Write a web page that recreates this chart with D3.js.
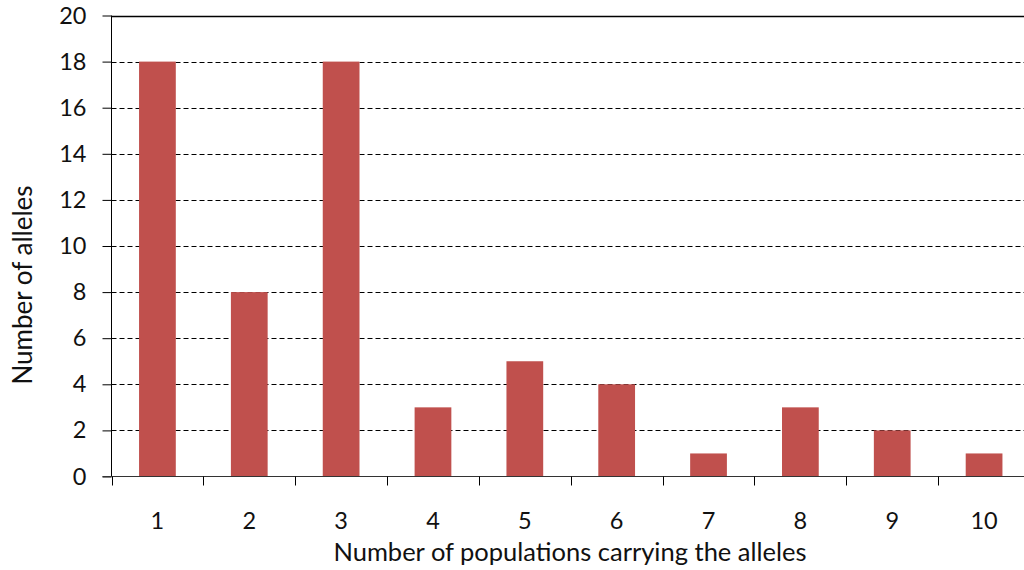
<!DOCTYPE html>
<html>
<head>
<meta charset="utf-8">
<script src="https://cdn.jsdelivr.net/npm/d3@7"></script>
<style>
  html, body { margin: 0; padding: 0; background: #fff; }
  svg { display: block; }
  text { font-family: Lato, "Open Sans", sans-serif; fill: #111; }
</style>
</head>
<body>
<svg id="chart" width="1024" height="570"></svg>
<script>
// Allele counts by number of populations carrying them
const categories = ["1", "2", "3", "4", "5", "6", "7", "8", "9", "10"];
const alleleCounts = [18, 8, 18, 3, 5, 4, 1, 3, 2, 1];
const yTicks = [0, 2, 4, 6, 8, 10, 12, 14, 16, 18, 20];
const xTitle = "Number of populations carrying the alleles";
const yTitle = "Number of alleles";

const svg = d3.select("#chart");
const plotLeft = 111.5, plotRight = 1030, plotTop = 15.5, plotBottom = 476.5;

const x = d3.scaleBand().domain(categories).range([plotLeft, plotRight])
  .paddingInner(0.6).paddingOuter(0.3);
const y = d3.scaleLinear().domain([0, 20]).range([plotBottom, plotTop]);

// horizontal gridlines (dashed), top one solid
svg.append("g").selectAll("line")
  .data(yTicks.filter(t => t > 0))
  .join("line")
  .attr("x1", plotLeft).attr("x2", plotRight)
  .attr("y1", d => Math.round(y(d)) + 0.5).attr("y2", d => Math.round(y(d)) + 0.5)
  .attr("stroke", "#000")
  .attr("stroke-width", d => d === 20 ? 1.3 : 1)
  .attr("stroke-dasharray", d => d === 20 ? null : "5,3");

// bars
svg.append("g").selectAll("rect")
  .data(categories.map((c, i) => ({ c, v: alleleCounts[i] })))
  .join("rect")
  .attr("x", d => x(d.c))
  .attr("width", x.bandwidth())
  .attr("y", d => y(d.v))
  .attr("height", d => y(0) - y(d.v))
  .attr("fill", "#C0504D");

// y axis
const yAxis = d3.axisLeft(y).tickValues(yTicks).tickSize(9).tickPadding(16)
  .tickFormat(d3.format("d"));
const gy = svg.append("g").attr("transform", `translate(${plotLeft},0)`).call(yAxis);
gy.select(".domain").attr("stroke", "#000").attr("d", `M0,${plotTop}V${plotBottom}`);
gy.selectAll(".tick line").attr("stroke", "#000");
gy.selectAll(".tick text").attr("font-size", 23.5).attr("fill", "#111")
  .attr("font-family", "Lato, 'Open Sans', sans-serif");

// x axis: ticks on category boundaries
const boundaries = d3.range(0, categories.length + 1).map(i => plotLeft + i * x.step());
const gx = svg.append("g");
gx.append("line")
  .attr("x1", plotLeft - 9).attr("x2", plotRight)
  .attr("y1", plotBottom).attr("y2", plotBottom)
  .attr("stroke", "#333").attr("stroke-width", 1.2);
gx.selectAll("line.tick").data(boundaries).join("line")
  .attr("class", "tick")
  .attr("x1", d => Math.round(d) + 0.5).attr("x2", d => Math.round(d) + 0.5)
  .attr("y1", plotBottom).attr("y2", plotBottom + 9)
  .attr("stroke", "#000");
gx.selectAll("text").data(categories).join("text")
  .attr("x", d => x(d) + x.bandwidth() / 2)
  .attr("y", 529)
  .attr("text-anchor", "middle")
  .attr("font-size", 23.5)
  .text(d => d);

// axis titles
svg.append("text")
  .attr("x", 570).attr("y", 561)
  .attr("text-anchor", "middle")
  .attr("font-size", 25.5)
  .text(xTitle);

svg.append("text")
  .attr("transform", "translate(32,285) rotate(-90)")
  .attr("text-anchor", "middle")
  .attr("font-size", 26)
  .text(yTitle);
</script>
</body>
</html>
